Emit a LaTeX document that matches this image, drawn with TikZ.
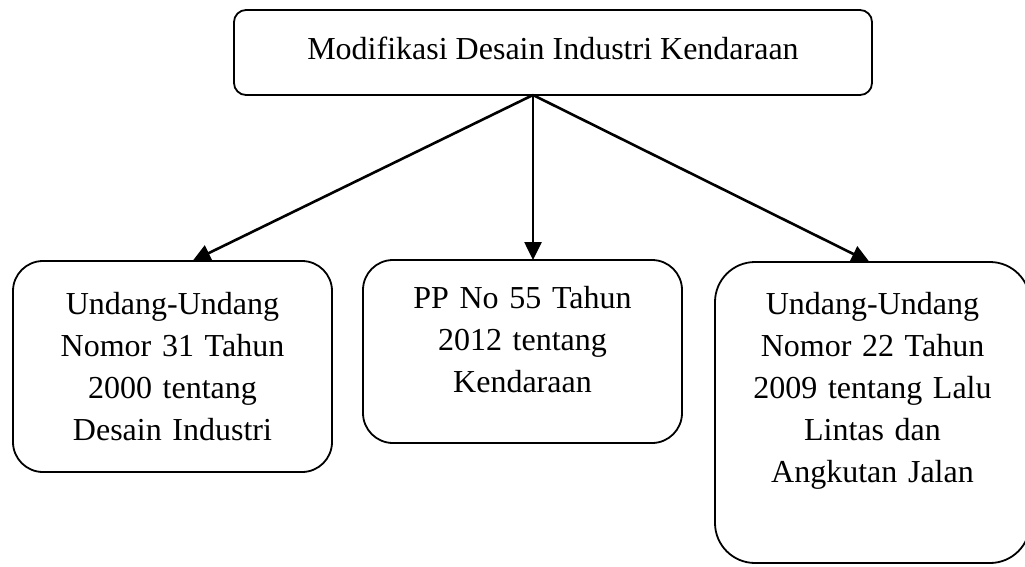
\documentclass[tikz,border=0pt]{standalone}
\usepackage{fontspec}
\setmainfont{Liberation Serif}
\usetikzlibrary{arrows.meta,calc}

\begin{document}
\begin{tikzpicture}[x=1pt,y=-1pt,
  topstyle/.style={draw,line width=1.8pt,rounded corners=12pt,inner sep=0pt,outer sep=0pt,
    minimum width=638pt,minimum height=85pt,text depth=8pt,font=\fontsize{32}{42}\selectfont},
  lawstyle/.style={draw,line width=1.8pt,rounded corners=30pt,inner sep=0pt,outer sep=0pt,
    align=center,text width=300pt,font=\fontsize{32}{42}\selectfont},
  arrstyle/.style={line width=2.6pt,-{Triangle[length=18pt,width=17pt]}}]
 \useasboundingbox (0,0) rectangle (1025,566);

 \node [topstyle] (top) at (553,52.5) {Modifikasi Desain Industri Kendaraan};

 \node [lawstyle,minimum width=319pt,minimum height=211pt] (uu31) at (172.5,366.5)
   {Undang-Undang\\ Nomor 31 Tahun\\ 2000 tentang\\ Desain Industri};
 \node [lawstyle,minimum width=319pt,minimum height=183pt] (pp55) at (522.5,351.5)
   {PP No 55 Tahun\\ 2012 tentang\\ Kendaraan\\[-18pt]\mbox{}};
 \node [lawstyle,rounded corners=40pt,minimum width=315pt,minimum height=301pt] (uu22) at (872.5,412.5)
   {Undang-Undang\\ Nomor 22 Tahun\\ 2009 tentang Lalu\\ Lintas dan\\ Angkutan Jalan\\[8pt]\mbox{}};

 \coordinate (src) at ($(top.south)+(-20,0)$);
 \draw [arrstyle] (src) -- ($(uu31.north)+(20,0)$);
 \draw [arrstyle] (src) -- ($(pp55.north)+(10.5,0)$);
 \draw [arrstyle] (src) -- ($(uu22.north)+(-3,0)$);
\end{tikzpicture}
\end{document}
